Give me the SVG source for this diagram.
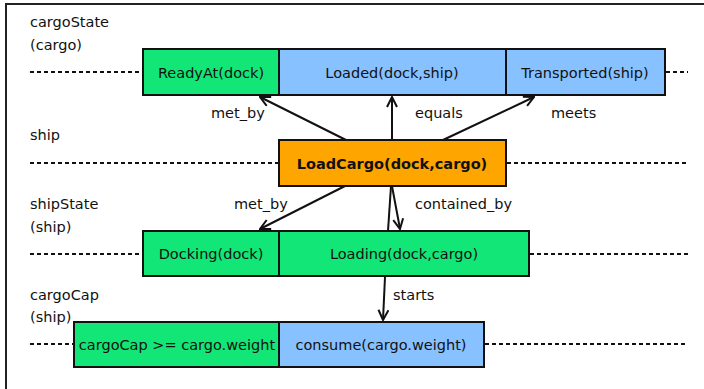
<svg xmlns="http://www.w3.org/2000/svg" width="704" height="389" viewBox="0 0 704 389">
  <style>
    text { font-family: "DejaVu Sans", "Noto Sans", sans-serif; font-size: 14.5px; fill: #111; }
    .c { text-anchor: middle; }
    .b { font-weight: bold; }
    .box { stroke: #111; stroke-width: 2; }
    .green { fill: #12E677; }
    .blue { fill: #88C1FF; }
    .orange { fill: #FFA500; }
    .tl { stroke: #111; stroke-width: 2; stroke-dasharray: 4 3; fill: none; }
    .arr { stroke: #111; stroke-width: 2; fill: none; }
  </style>
  <defs>
    <marker id="head" viewBox="0 0 12 12" refX="11" refY="6" markerWidth="12" markerHeight="12" markerUnits="userSpaceOnUse" orient="auto">
      <path d="M1,1 L11,6 L1,11" fill="none" stroke="#111" stroke-width="2"/>
    </marker>
  </defs>
  <rect width="704" height="389" fill="#fff"/>
  <!-- outer frame -->
  <rect x="6" y="4" width="710" height="400" fill="none" stroke="#222" stroke-width="2"/>

  <!-- timeline labels -->
  <g id="labels">
    <text x="30" y="27">cargoState</text>
    <text x="30" y="50">(cargo)</text>
    <text x="30" y="140">ship</text>
    <text x="30" y="209">shipState</text>
    <text x="30" y="232">(ship)</text>
    <text x="30" y="300">cargoCap</text>
    <text x="30" y="322">(ship)</text>
  </g>

  <!-- timelines -->
  <g id="timelines">
    <line class="tl" x1="30" y1="72" x2="143" y2="72"/>
    <line class="tl" x1="666" y1="72" x2="688" y2="72"/>
    <line class="tl" x1="30" y1="163" x2="279" y2="163"/>
    <line class="tl" x1="507" y1="163" x2="688" y2="163"/>
    <line class="tl" x1="30" y1="254" x2="143" y2="254"/>
    <line class="tl" x1="530" y1="254" x2="688" y2="254"/>
    <line class="tl" x1="30" y1="344" x2="74" y2="344"/>
    <line class="tl" x1="485" y1="344" x2="688" y2="344"/>
  </g>

  <g id="readyAt">
    <rect class="box green" x="143" y="49" width="136" height="46"/>
    <text class="c" x="211" y="77.5">ReadyAt(dock)</text>
  </g>
  <g id="loaded">
    <rect class="box blue" x="279" y="49" width="227" height="46"/>
    <text class="c" x="392" y="77.5">Loaded(dock,ship)</text>
  </g>
  <g id="transported">
    <rect class="box blue" x="506" y="49" width="159" height="46"/>
    <text class="c" x="585" y="77.5">Transported(ship)</text>
  </g>
  <g id="loadCargo">
    <rect class="box orange" x="279" y="140" width="227" height="46"/>
    <text class="c b" x="392" y="168.5">LoadCargo(dock,cargo)</text>
  </g>
  <g id="docking">
    <rect class="box green" x="143" y="231" width="136" height="45"/>
    <text class="c" x="211" y="259">Docking(dock)</text>
  </g>
  <g id="loading">
    <rect class="box green" x="279" y="231" width="250" height="45"/>
    <text class="c" x="404" y="259">Loading(dock,cargo)</text>
  </g>
  <g id="capCheck">
    <rect class="box green" x="74" y="322" width="205" height="45"/>
    <text class="c" x="177" y="349.5">cargoCap &gt;= cargo.weight</text>
  </g>
  <g id="consume">
    <rect class="box blue" x="279" y="322" width="205" height="45"/>
    <text class="c" x="381" y="349.5">consume(cargo.weight)</text>
  </g>

  <!-- temporal relations -->
  <g id="connectors">
    <line class="arr" x1="346" y1="140" x2="260" y2="97" marker-end="url(#head)"/>
    <line class="arr" x1="392" y1="140" x2="392" y2="97" marker-end="url(#head)"/>
    <line class="arr" x1="443" y1="140" x2="534" y2="97" marker-end="url(#head)"/>
    <line class="arr" x1="345" y1="186" x2="260" y2="229" marker-end="url(#head)"/>
    <line class="arr" x1="391" y1="186" x2="388" y2="231"/>
    <line class="arr" x1="392" y1="186" x2="400" y2="229" marker-end="url(#head)"/>
    <line class="arr" x1="385" y1="277" x2="383" y2="320" marker-end="url(#head)"/>
    <text x="211" y="118">met_by</text>
    <text x="415" y="118">equals</text>
    <text x="551" y="118">meets</text>
    <text x="234" y="209">met_by</text>
    <text x="415" y="209">contained_by</text>
    <text x="393" y="300">starts</text>
  </g>
</svg>
